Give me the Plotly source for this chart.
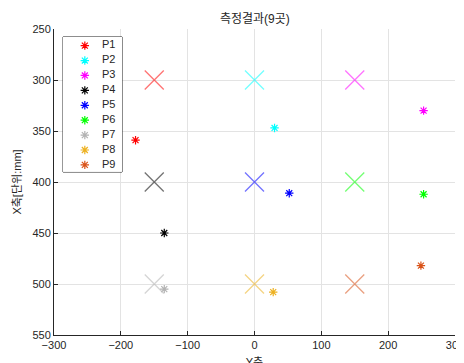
import plotly.graph_objects as go

labels = ["P1", "P2", "P3", "P4", "P5", "P6", "P7", "P8", "P9"]
colors = ["#ff0000", "#00ffff", "#ff00ff", "#000000", "#0000ff", "#00ff00",
          "#b3b3b3", "#edb120", "#d95319"]
target_y = [-150, 0, 150, -150, 0, 150, -150, 0, 150]
target_x = [300, 300, 300, 400, 400, 400, 500, 500, 500]
meas_y = [-178, 30, 253, -135, 52, 253, -135, 28, 249]
meas_x = [359, 347, 330, 450, 411, 412, 505, 508, 482]

font_family = "Liberation Sans, Arial, Noto Sans CJK KR, sans-serif"
txt = "#262626"

fig = go.Figure()
for i in range(len(labels)):
    fig.add_trace(go.Scatter(
        x=[target_y[i]], y=[target_x[i]], mode="markers", showlegend=False,
        marker=dict(symbol="x-thin", size=19, opacity=0.55,
                    line=dict(color=colors[i], width=1.3)),
        hoverinfo="skip"))
for i in range(len(labels)):
    fig.add_trace(go.Scatter(
        x=[meas_y[i]], y=[meas_x[i]], mode="markers", name=labels[i],
        showlegend=False,
        marker=dict(symbol="asterisk", size=7, color=colors[i],
                    line=dict(color=colors[i], width=1.2))))

# legend drawn as a small inset subplot
rows = list(range(len(labels)))
fig.add_trace(go.Scatter(
    x=[0.37] * len(labels), y=rows, mode="markers", xaxis="x2", yaxis="y2",
    showlegend=False, hoverinfo="skip",
    marker=dict(symbol="asterisk", size=7, color=colors,
                line=dict(color=colors, width=1.2))))
fig.add_trace(go.Scatter(
    x=[0.66] * len(labels), y=rows, mode="text", text=labels,
    textposition="middle right", xaxis="x2", yaxis="y2",
    showlegend=False, hoverinfo="skip",
    textfont=dict(size=11, color=txt)))

fig.add_shape(type="rect", xref="x", yref="y",
              x0=-286.5, x1=-198.2, y0=257.8, y1=390.2,
              fillcolor="white", line=dict(color=txt, width=1),
              layer="between")

axis_common = dict(
    showgrid=True, gridcolor="#e3e3e3", gridwidth=1, zeroline=False,
    showline=True, linecolor=txt, linewidth=1, automargin=False,
    ticks="inside", ticklen=4, tickcolor=txt,
    tickfont=dict(size=11, color=txt),
)

fig.update_layout(
    width=464, height=363,
    margin=dict(l=46, r=17, t=21, b=36),
    paper_bgcolor="white", plot_bgcolor="white",
    font=dict(family=font_family, size=11, color=txt),
    title=dict(text="측정결과(9곳)", x=0.532, xanchor="center", y=0.97,
               yanchor="middle", font=dict(size=12, color=txt)),
    showlegend=False,
    xaxis=dict(range=[-300, 300],
               tickvals=[-300, -200, -100, 0, 100, 200, 300],
               title=dict(text="Y축", standoff=8, font=dict(size=11)),
               **axis_common),
    yaxis=dict(range=[550, 250],
               tickvals=[250, 300, 350, 400, 450, 500, 550],
               title=dict(text="X축[단위:mm]", standoff=8, font=dict(size=11)),
               **axis_common),
    xaxis2=dict(domain=[0.0224, 0.1696], anchor="y2", range=[0, 1],
                visible=False, fixedrange=True),
    yaxis2=dict(domain=[0.533, 0.974], anchor="x2", range=[8.47, -0.584],
                visible=False, fixedrange=True),
)
fig.write_html("out.html")
